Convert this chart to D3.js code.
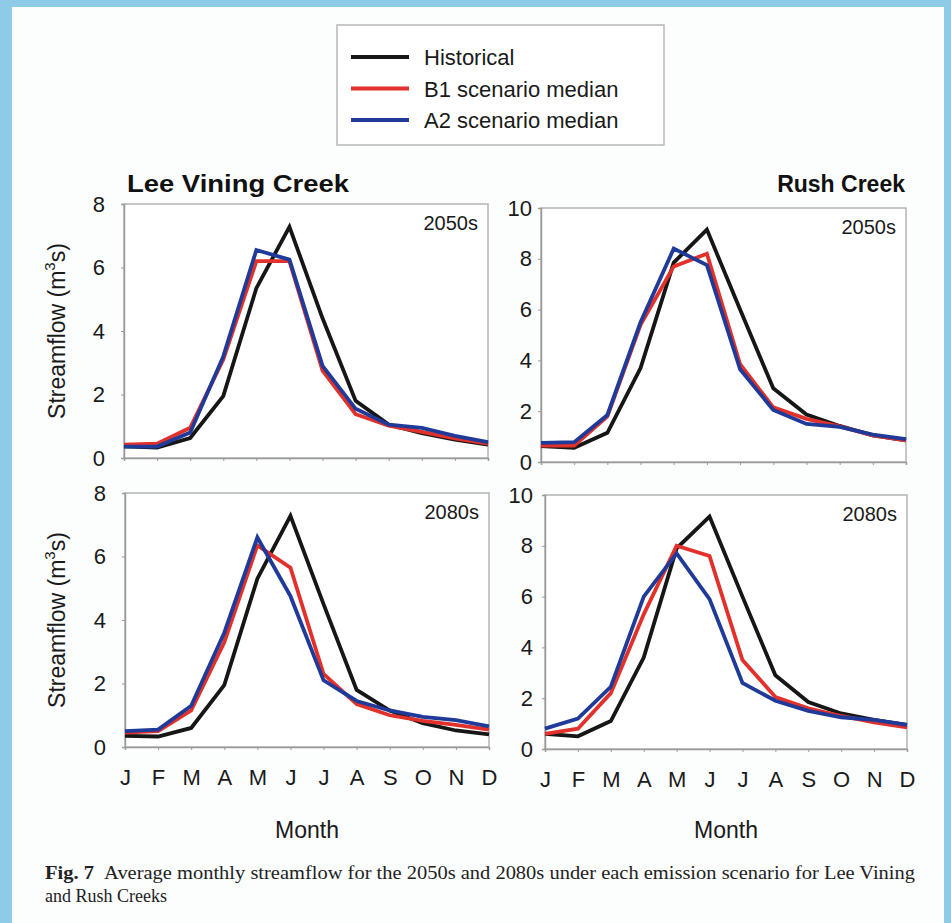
<!DOCTYPE html>
<html><head><meta charset="utf-8">
<script src="https://cdn.jsdelivr.net/npm/d3@7"></script>
<style>
html,body{margin:0;padding:0;background:#fff;}
svg{display:block;}
</style></head>
<body>
<svg id="chart" width="951" height="923" font-family="Arial, 'Liberation Sans', sans-serif"></svg>
<script>
// ---- data ----
const months = ["J","F","M","A","M","J","J","A","S","O","N","D"];
const seriesNames = ["Historical","B1 scenario median","A2 scenario median"];
const seriesColors = ["#161616","#e2302b","#1f3a98"];

const leeYTicks = [0,2,4,6,8];
const rushYTicks = [0,2,4,6,8,10];

// Lee Vining Creek, 2050s
const lee2050Hist = [0.37,0.33,0.63,1.95,5.35,7.28,4.4,1.8,1.05,0.78,0.58,0.42];
const lee2050B1   = [0.42,0.45,0.95,3.1,6.2,6.2,2.75,1.38,1.02,0.82,0.62,0.45];
const lee2050A2   = [0.36,0.36,0.8,3.2,6.55,6.25,2.9,1.55,1.05,0.95,0.7,0.5];
// Rush Creek, 2050s
const rush2050Hist = [0.63,0.56,1.15,3.7,7.85,9.15,6.0,2.9,1.87,1.42,1.05,0.85];
const rush2050B1   = [0.65,0.65,1.8,5.4,7.7,8.2,3.85,2.15,1.7,1.4,1.05,0.85];
const rush2050A2   = [0.75,0.78,1.85,5.5,8.4,7.75,3.65,2.05,1.5,1.38,1.08,0.9];
// Lee Vining Creek, 2080s
const lee2080Hist = [0.35,0.33,0.6,1.95,5.3,7.28,4.5,1.8,1.15,0.75,0.52,0.4];
const lee2080B1   = [0.45,0.5,1.15,3.3,6.35,5.65,2.3,1.35,1.0,0.82,0.7,0.55];
const lee2080A2   = [0.5,0.55,1.3,3.6,6.6,4.75,2.1,1.45,1.15,0.95,0.85,0.65];
// Rush Creek, 2080s
const rush2080Hist = [0.6,0.5,1.1,3.6,7.9,9.15,6.0,2.9,1.85,1.4,1.15,0.95];
const rush2080B1   = [0.6,0.8,2.2,5.3,8.0,7.6,3.5,2.05,1.6,1.3,1.05,0.85];
const rush2080A2   = [0.8,1.2,2.45,6.0,7.7,5.9,2.6,1.9,1.5,1.25,1.15,0.95];

const captionLine1 = "Average monthly streamflow for the 2050s and 2080s under each emission scenario for Lee Vining";
const captionLine2 = "and Rush Creeks";

// ---- layout ----
const svg = d3.select("#chart");
svg.append("rect").attr("x",0).attr("y",0).attr("width",951).attr("height",923).attr("fill","#8ecbe6");
svg.append("rect").attr("x",12).attr("y",7).attr("width",932).attr("height",916).attr("fill","#fcfdfd");

const panels = [
  {x0:124,x1:488,y0:204,y1:458,yt:leeYTicks,data:[lee2050Hist,lee2050B1,lee2050A2],period:"2050s",labOff:19,xlabels:false,ylab:true},
  {x0:541,x1:906,y0:208,y1:462,yt:rushYTicks,data:[rush2050Hist,rush2050B1,rush2050A2],period:"2050s",labOff:9,xlabels:false,ylab:false},
  {x0:125,x1:489,y0:493,y1:747,yt:leeYTicks,data:[lee2080Hist,lee2080B1,lee2080A2],period:"2080s",labOff:19,xlabels:true,ylab:true},
  {x0:545,x1:907,y0:495,y1:749,yt:rushYTicks,data:[rush2080Hist,rush2080B1,rush2080A2],period:"2080s",labOff:12,xlabels:true,ylab:false}
];

panels.forEach(p=>{
  const x = d3.scalePoint().domain(d3.range(12)).range([p.x0,p.x1]).padding(0);
  const y = d3.scaleLinear().domain([0,d3.max(p.yt)]).range([p.y1,p.y0]);
  const g = svg.append("g");
  g.append("rect").attr("x",p.x0).attr("y",p.y0).attr("width",p.x1-p.x0).attr("height",p.y1-p.y0)
    .attr("fill","#ffffff").attr("stroke","#b4b4b4").attr("stroke-width",1.5);
  // y axis
  const ya = g.append("g").attr("transform",`translate(${p.x0},0)`)
    .call(d3.axisLeft(y).tickValues(p.yt).tickSize(3).tickPadding(p.labOff-3).tickFormat(d3.format("d")));
  ya.attr("font-family","Arial, 'Liberation Sans', sans-serif");
  ya.select(".domain").attr("stroke","#9a9a9a").attr("stroke-width",1.5);
  ya.selectAll(".tick line").attr("stroke","#9a9a9a");
  ya.selectAll(".tick text").attr("font-size",22).attr("fill","#1a1a1a");
  // x axis
  const xa = g.append("g").attr("transform",`translate(0,${p.y1})`)
    .call(d3.axisBottom(x).tickSize(3).tickPadding(19).tickFormat(i=>months[i]));
  xa.attr("font-family","Arial, 'Liberation Sans', sans-serif");
  xa.select(".domain").attr("stroke","#9a9a9a").attr("stroke-width",1.5);
  xa.selectAll(".tick line").attr("stroke","#9a9a9a");
  xa.selectAll(".tick text").attr("font-size",22).attr("fill","#1a1a1a")
    .style("display",p.xlabels?null:"none");
  // lines
  const line = d3.line().x((d,i)=>x(i)).y(d=>y(d));
  p.data.forEach((s,k)=>{
    g.append("path").datum(s).attr("d",line).attr("fill","none")
      .attr("stroke",seriesColors[k]).attr("stroke-width",3.8).attr("stroke-linejoin","miter");
  });
  // period label
  g.append("text").attr("x",p.x1-10).attr("y",p.y0+26).attr("text-anchor","end")
    .attr("font-size",20).attr("fill","#1a1a1a").text(p.period);
  if(p.ylab){
    const cy=(p.y0+p.y1)/2;
    const t=g.append("text").attr("transform",`translate(65,${cy}) rotate(-90)`)
      .attr("text-anchor","middle").attr("font-size",23).attr("fill","#1a1a1a");
    t.append("tspan").text("Streamflow (m");
    t.append("tspan").attr("font-size",15).attr("dy",-10).text("3");
    t.append("tspan").attr("dy",10).text("s)");
  }
  if(p.xlabels){
    g.append("text").attr("x",(p.x0+p.x1)/2).attr("y",838).attr("text-anchor","middle")
      .attr("font-size",23).attr("fill","#1a1a1a").text("Month");
  }
});

// titles
svg.append("text").attr("x",127).attr("y",192).attr("font-size",23).attr("font-weight","bold")
  .attr("fill","#111").attr("textLength",222).attr("lengthAdjust","spacingAndGlyphs").text("Lee Vining Creek");
svg.append("text").attr("x",905).attr("y",192).attr("font-size",23).attr("font-weight","bold")
  .attr("text-anchor","end").attr("fill","#111").text("Rush Creek");

// legend
const lg = svg.append("g");
lg.append("rect").attr("x",337).attr("y",25).attr("width",327).attr("height",120)
  .attr("fill","#ffffff").attr("stroke","#b8b8b8").attr("stroke-width",1.5);
const legY = d3.scalePoint().domain(seriesNames).range([57,120]);
seriesNames.forEach((n,k)=>{
  lg.append("line").attr("x1",351).attr("x2",409).attr("y1",legY(n)).attr("y2",legY(n))
    .attr("stroke",seriesColors[k]).attr("stroke-width",4);
  lg.append("text").attr("x",424).attr("y",legY(n)+8).attr("font-size",22).attr("fill","#1a1a1a").text(n);
});

// caption
const serif = "'Liberation Serif','Times New Roman',serif";
const cap1 = svg.append("text").attr("x",45).attr("y",879).attr("font-family",serif)
  .attr("font-size",18).attr("fill","#222").attr("textLength",870).attr("lengthAdjust","spacingAndGlyphs");
cap1.append("tspan").attr("font-weight","bold").text("Fig. 7");
cap1.append("tspan").text("\u00a0\u00a0" + captionLine1);
svg.append("text").attr("x",45).attr("y",902).attr("font-family",serif)
  .attr("font-size",18).attr("fill","#222").text(captionLine2);
</script>
</body></html>
